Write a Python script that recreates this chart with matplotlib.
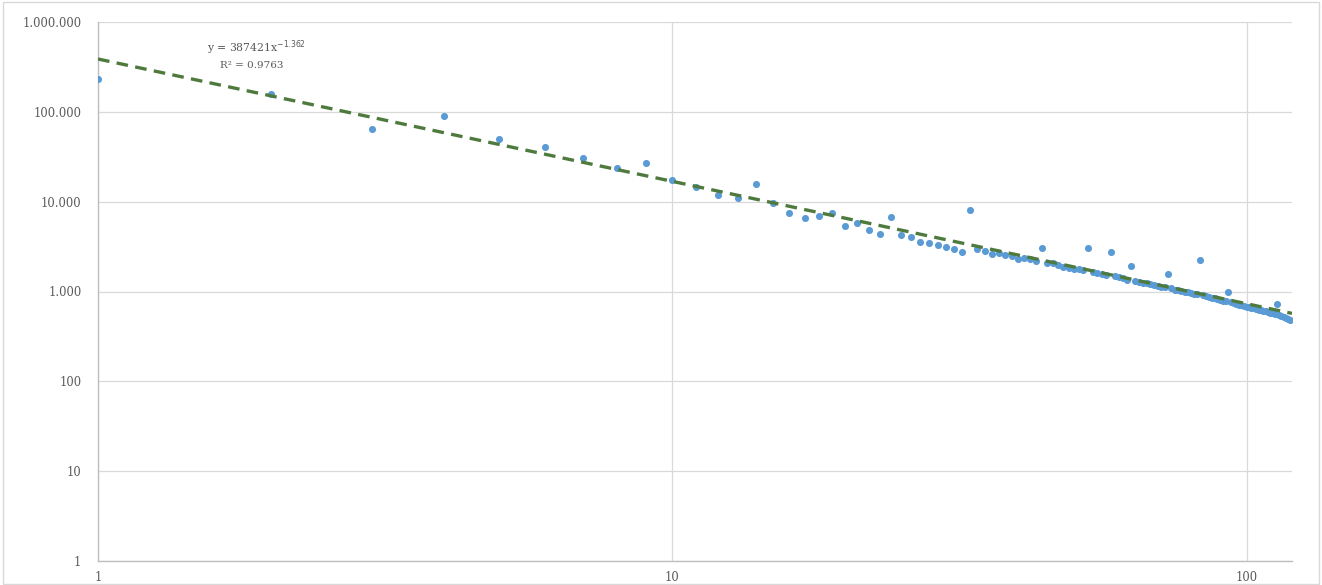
import numpy as np
import matplotlib
matplotlib.use("Agg")
import matplotlib.pyplot as plt
from matplotlib.ticker import FixedLocator, NullLocator

# ---- data (rank vs. value) ----
ranks = list(range(1, 120))
values = [
    233000, 157000, 64300, 90300, 49700, 40800, 30300, 23400, 26700, 17400,
    14700, 11900, 10900, 15700, 9580, 7480, 6590, 6990, 7420, 5410,
    5740, 4840, 4370, 6810, 4300, 4010, 3530, 3440, 3300, 3110,
    2980, 2730, 8150, 2980, 2860, 2640, 2700, 2560, 2480, 2310,
    2380, 2290, 2200, 3060, 2050, 2080, 1960, 1890, 1830, 1800,
    1760, 1720, 3060, 1650, 1600, 1570, 1540, 2730, 1470, 1440,
    1400, 1360, 1910, 1320, 1290, 1250, 1230, 1200, 1180, 1150,
    1130, 1110, 1575, 1080, 1050, 1040, 1020, 1000, 985, 970,
    950, 935, 2270, 905, 890, 870, 850, 840, 825, 810,
    790, 775, 983, 760, 745, 730, 715, 700, 690, 675,
    665, 655, 650, 640, 630, 620, 610, 600, 590, 580,
    570, 565, 717, 545, 535, 520, 505, 495, 480,
]

# trendline (power) as shown in the chart label
fit_coef = 387421
fit_exp = -1.362
eq_text = "y = 387421x$^{-1.362}$"
r2_text = "R² = 0.9763"

y_ticks = [1, 10, 100, 1000, 10000, 100000, 1000000]
y_tick_labels = ["1", "10", "100", "1.000", "10.000", "100.000", "1.000.000"]
x_ticks = [1, 10, 100]
x_tick_labels = ["1", "10", "100"]

# ---- figure ----
W, H = 1322, 585
fig = plt.figure(figsize=(W / 100, H / 100), dpi=100)
fig.patch.set_facecolor("white")
# chart border
fig.add_artist(plt.Rectangle((0.002, 0.002), 0.996, 0.995, transform=fig.transFigure,
                             fill=False, edgecolor="#D9D9D9", linewidth=1.0))

ax = fig.add_axes([98 / W, 1 - 561 / H, (1292 - 98) / W, (561 - 22) / H])
ax.set_xscale("log")
ax.set_yscale("log")
ax.set_xlim(1, 120)
ax.set_ylim(1, 1000000)

ax.grid(True, which="major", color="#D9D9D9", linewidth=0.9)
ax.set_axisbelow(True)

ax.scatter(ranks, values, s=26, color="#5B9BD5", zorder=3, linewidths=0)

xf = np.linspace(1, 120, 400)
ax.plot(xf, fit_coef * xf ** fit_exp, linestyle=(0, (3.5, 2.2)), color="#4F7A3E",
        linewidth=2.4, zorder=4)

ax.yaxis.set_major_locator(FixedLocator(y_ticks))
ax.yaxis.set_minor_locator(NullLocator())
ax.set_yticklabels(y_tick_labels)
ax.xaxis.set_major_locator(FixedLocator(x_ticks))
ax.xaxis.set_minor_locator(NullLocator())
ax.set_xticklabels(x_tick_labels)

for sp in ["top", "right"]:
    ax.spines[sp].set_visible(False)
for sp in ["left", "bottom"]:
    ax.spines[sp].set_color("#BFBFBF")
    ax.spines[sp].set_linewidth(1.0)

ax.tick_params(axis="both", length=0, labelsize=8.3, colors="#595959")
ax.tick_params(axis="y", pad=12)
ax.tick_params(axis="x", pad=7)
for lab in ax.get_xticklabels() + ax.get_yticklabels():
    lab.set_fontfamily("DejaVu Serif")

fig.text(256 / W, 1 - 48 / H, eq_text, ha="center", va="center", fontsize=7.8,
         color="#595959", family="DejaVu Serif")
fig.text(252 / W, 1 - 66 / H, r2_text, ha="center", va="center", fontsize=7.5,
         color="#595959", family="DejaVu Serif")

fig.savefig("out.png", dpi=100, facecolor="white")
